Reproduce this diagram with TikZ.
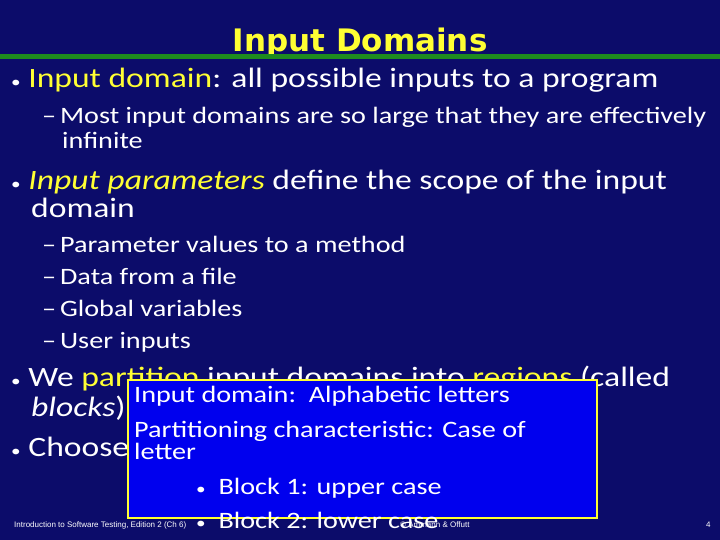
\documentclass[tikz,border=0pt]{standalone}
\usepackage{fontspec}
\setmainfont{Carlito}[FakeStretch=1.2]
\newfontfamily\titlefont{DejaVu Sans}
\newfontfamily\footfont{Liberation Sans}
\definecolor{bg}{HTML}{0C0C6A}
\definecolor{ylw}{HTML}{FFFF33}
\definecolor{grn}{HTML}{1E8C1E}
\definecolor{boxblue}{HTML}{0000EE}
\newcommand{\bul}{{\fontsize{16}{16}\selectfont\textbullet}}
\begin{document}
\begin{tikzpicture}[x=1pt,y=-1pt,
  txt/.style={anchor=base west,inner sep=0pt,text=white},
  big/.style={txt,font=\fontsize{28}{30}\selectfont},
  sub/.style={txt,font=\fontsize{23.5}{25}\selectfont},
  boxt/.style={txt,font=\fontsize{23.5}{25}\selectfont},
  foot/.style={txt,font=\footfont\fontsize{8}{9}\selectfont}]
\useasboundingbox (0,0) rectangle (720,540);
\fill[bg] (0,0) rectangle (720,540);
\node[anchor=base,inner sep=0pt,text=ylw,font=\titlefont\bfseries\fontsize{31}{34}\selectfont] (title) at (360,52) {Input Domains};
\draw[grn,line width=5pt] (0,57) -- (720,57);
\node[big] (b1) at (11,88) {\bul\ \textcolor{ylw}{Input domain}: all possible inputs to a program};
\node[sub] (s1) at (42,124) {\textendash\,Most input domains are so large that they are effectively};
\node[sub] (s1b) at (62,149) {infinite};
\node[big] (b2) at (11,190) {\bul\ \textcolor{ylw}{\itshape Input parameters} define the scope of the input};
\node[big] (b2b) at (31,218) {domain};
\node[sub] (s2) at (42,252) {\textendash\,Parameter values to a method};
\node[sub] (s3) at (42,284) {\textendash\,Data from a file};
\node[sub] (s4) at (42,316) {\textendash\,Global variables};
\node[sub] (s5) at (42,348) {\textendash\,User inputs};
\node[big] (b3) at (11,386) {\bul\ We \textcolor{ylw}{partition} input domains into \textcolor{ylw}{regions} (called};
\node[big] (b3b) at (31,416) {\itshape blocks\upshape)};
\node[big] (b4) at (11,456) {\bul\ Choose};
\node[foot] (f1) at (14,527) {Introduction to Software Testing, Edition 2 (Ch 6)};
\node[foot] (f2) at (400,527) {\copyright\ Ammann \& Offutt};
\node[foot] (f3) at (706,527) {4};
\draw[ylw,line width=2.5pt,fill=boxblue] (128,380) rectangle (597,518);
\node[boxt] (t1) at (134,402) {Input domain:\ \ Alphabetic letters};
\node[boxt] (t2) at (134,437) {Partitioning characteristic: Case of};
\node[boxt] (t3) at (134,459) {letter};
\node[boxt] (t4) at (196,494) {\bul\ \ Block 1: upper case};
\node[boxt] (t5) at (196,528) {\bul\ \ Block 2: lower case};
\end{tikzpicture}
\end{document}
